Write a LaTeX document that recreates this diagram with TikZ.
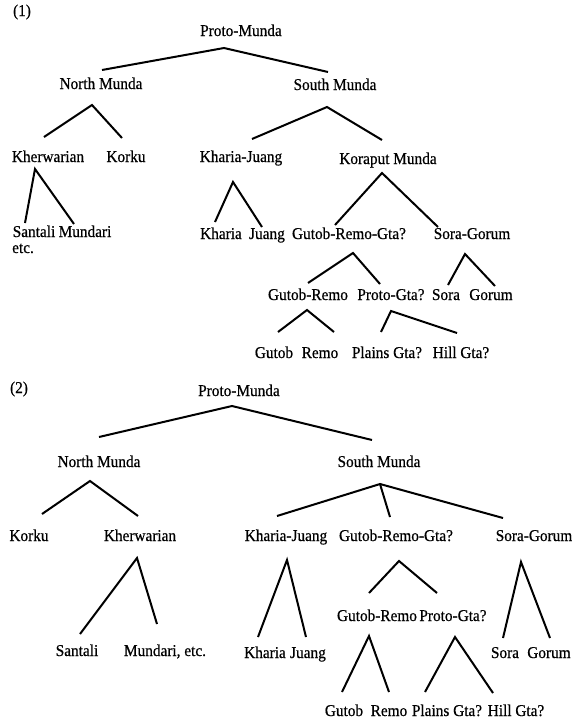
\documentclass[tikz,border=0pt]{standalone}
\usepackage{fontspec}
\setmainfont{Liberation Serif}[FakeBold=0.6]
\begin{document}
\begin{tikzpicture}[x=1pt,y=-1pt,
  lbl/.style={anchor=base,inner sep=0pt,font=\fontsize{15.3}{17}\selectfont,yscale=1.08,transform shape},
  lblw/.style={lbl,anchor=base west},
  branch/.style={line width=2pt,line cap=butt,line join=miter}]
\useasboundingbox (0,0) rectangle (572,723);
\fill[white] (0,0) rectangle (572,723);
% ---------------- Tree (1) ----------------
\node[lbl] (t1) at (22,16) {(1)};
\node[lbl] (pm1) at (241,36) {Proto-Munda};
\node[lbl] (nm1) at (101,89) {North Munda};
\node[lbl] (sm1) at (335,90) {South Munda};
\node[lbl] (kw1) at (48,162) {Kherwarian};
\node[lbl] (ko1) at (126,162) {Korku};
\node[lbl] (kj1) at (241,162) {Kharia-Juang};
\node[lbl] (km1) at (388,164) {Koraput Munda};
\node[lbl] (sa1) at (34,237) {Santali};
\node[lbl] (mu1) at (85,237) {Mundari};
\node[lblw] (etc1) at (12,253) {etc.};
\node[lbl] (kh1) at (221,239) {Kharia};
\node[lbl] (ju1) at (267,239) {Juang};
\node[lbl] (grg1) at (349,239) {Gutob-Remo-Gta?};
\node[lbl] (sg1) at (472,239) {Sora-Gorum};
\node[lbl] (gr1) at (308,300) {Gutob-Remo};
\node[lbl] (pg1) at (391,300) {Proto-Gta?};
\node[lbl] (so1) at (446,300) {Sora};
\node[lbl] (go1) at (491,300) {Gorum};
\node[lbl] (gu1) at (274,358) {Gutob};
\node[lbl] (re1) at (320,358) {Remo};
\node[lbl] (pl1) at (387,358) {Plains Gta?};
\node[lbl] (hi1) at (461,358) {Hill Gta?};
% branch points
\coordinate (pm1a) at (224,48);  \coordinate (pm1l) at (102,70);  \coordinate (pm1r) at (328,72);
\coordinate (nm1a) at (92,105);  \coordinate (nm1l) at (44,137);  \coordinate (nm1r) at (122,138);
\coordinate (sm1a) at (327,107); \coordinate (sm1l) at (252,139); \coordinate (sm1r) at (382,140);
\coordinate (kw1a) at (35,169);  \coordinate (kw1l) at (25,223);  \coordinate (kw1r) at (74,224);
\coordinate (kj1a) at (233,182); \coordinate (kj1l) at (215,222); \coordinate (kj1r) at (262,227);
\coordinate (km1a) at (382,173); \coordinate (km1l) at (335,225); \coordinate (km1r) at (438,227);
\coordinate (grg1a) at (353,253); \coordinate (grg1l) at (308,283); \coordinate (grg1r) at (380,284);
\coordinate (sg1a) at (465,254); \coordinate (sg1l) at (448,285); \coordinate (sg1r) at (495,286);
\coordinate (gr1a) at (307,310); \coordinate (gr1l) at (278,332); \coordinate (gr1r) at (334,332);
\coordinate (pg1a) at (391,311); \coordinate (pg1l) at (381,332); \coordinate (pg1r) at (457,333);
\draw[branch] (pm1l) -- (pm1a) -- (pm1r);
\draw[branch] (nm1l) -- (nm1a) -- (nm1r);
\draw[branch] (sm1l) -- (sm1a) -- (sm1r);
\draw[branch] (kw1l) -- (kw1a) -- (kw1r);
\draw[branch] (kj1l) -- (kj1a) -- (kj1r);
\draw[branch] (km1l) -- (km1a) -- (km1r);
\draw[branch] (grg1l) -- (grg1a) -- (grg1r);
\draw[branch] (sg1l) -- (sg1a) -- (sg1r);
\draw[branch] (gr1l) -- (gr1a) -- (gr1r);
\draw[branch] (pg1l) -- (pg1a) -- (pg1r);
% ---------------- Tree (2) ----------------
\node[lbl] (t2) at (19,393) {(2)};
\node[lbl] (pm2) at (239,396) {Proto-Munda};
\node[lbl] (nm2) at (99,467) {North Munda};
\node[lbl] (sm2) at (379,467) {South Munda};
\node[lbl] (ko2) at (29,541) {Korku};
\node[lbl] (kw2) at (140,541) {Kherwarian};
\node[lbl] (kj2) at (286,541) {Kharia-Juang};
\node[lbl] (grg2) at (396,541) {Gutob-Remo-Gta?};
\node[lbl] (sg2) at (534,541) {Sora-Gorum};
\node[lbl] (sa2) at (77,656) {Santali};
\node[lbl] (mu2) at (165,656) {Mundari, etc.};
\node[lbl] (kh2) at (265,658) {Kharia};
\node[lbl] (ju2) at (308,658) {Juang};
\node[lbl] (gr2) at (377,621) {Gutob-Remo};
\node[lbl] (pg2) at (453,621) {Proto-Gta?};
\node[lbl] (so2) at (505,658) {Sora};
\node[lbl] (go2) at (549,658) {Gorum};
\node[lbl] (gu2) at (344,716) {Gutob};
\node[lbl] (re2) at (389,716) {Remo};
\node[lbl] (pl2) at (447,716) {Plains Gta?};
\node[lbl] (hi2) at (516,716) {Hill Gta?};
\coordinate (pm2a) at (232,406); \coordinate (pm2l) at (99,437);  \coordinate (pm2r) at (372,440);
\coordinate (nm2a) at (90,481);  \coordinate (nm2l) at (42,514);  \coordinate (nm2r) at (138,516);
\coordinate (sm2a) at (380,484); \coordinate (sm2l) at (277,516); \coordinate (sm2m) at (390,517); \coordinate (sm2r) at (503,518);
\coordinate (kw2a) at (137,558); \coordinate (kw2l) at (80,634);  \coordinate (kw2r) at (157,624);
\coordinate (kj2a) at (287,560); \coordinate (kj2l) at (258,637); \coordinate (kj2r) at (306,637);
\coordinate (grg2a) at (399,561); \coordinate (grg2l) at (369,593); \coordinate (grg2r) at (437,593);
\coordinate (sg2a) at (521,562); \coordinate (sg2l) at (503,638); \coordinate (sg2r) at (550,638);
\coordinate (gr2a) at (369,636); \coordinate (gr2l) at (342,692); \coordinate (gr2r) at (389,692);
\coordinate (pg2a) at (455,637); \coordinate (pg2l) at (425,692); \coordinate (pg2r) at (493,693);
\draw[branch] (pm2l) -- (pm2a) -- (pm2r);
\draw[branch] (nm2l) -- (nm2a) -- (nm2r);
\draw[branch] (sm2l) -- (sm2a) -- (sm2r);
\draw[branch] (sm2a) -- (sm2m);
\draw[branch] (kw2l) -- (kw2a) -- (kw2r);
\draw[branch] (kj2l) -- (kj2a) -- (kj2r);
\draw[branch] (grg2l) -- (grg2a) -- (grg2r);
\draw[branch] (sg2l) -- (sg2a) -- (sg2r);
\draw[branch] (gr2l) -- (gr2a) -- (gr2r);
\draw[branch] (pg2l) -- (pg2a) -- (pg2r);
\end{tikzpicture}
\end{document}
